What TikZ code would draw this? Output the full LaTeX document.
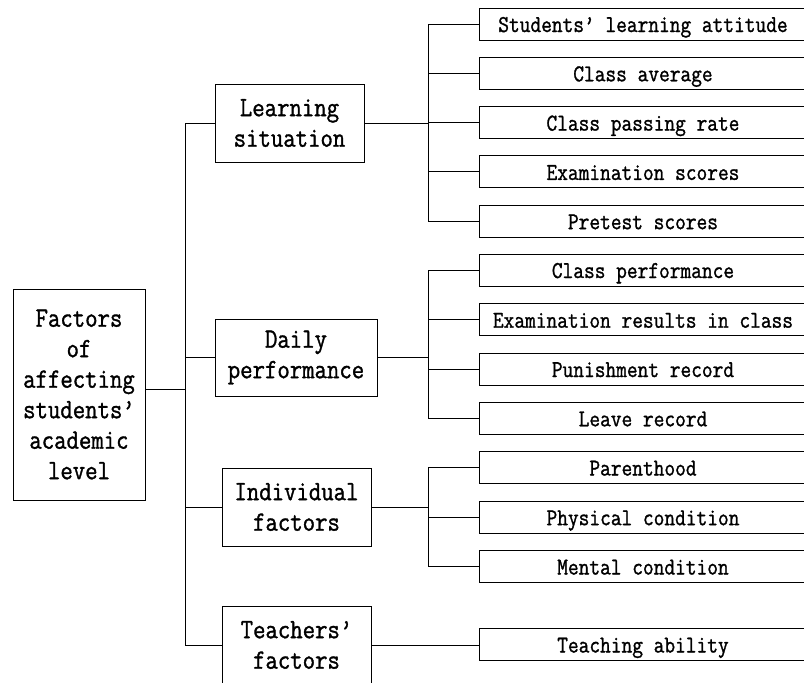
\documentclass[tikz,border=0pt]{standalone}
\usepackage{fontspec}
\setmainfont[FakeStretch=0.86,FakeBold=1.2]{Latin Modern Mono}
\begin{document}
\begin{tikzpicture}[x=1pt,y=-1pt,
  line width=1pt,
  midbox/.style={draw, align=center, inner sep=0pt, font=\fontsize{28}{30.5}\selectfont},
  leaf/.style={draw, anchor=west, minimum width=327pt, minimum height=32pt, inner sep=0pt, text height=18pt, text depth=2pt, font=\fontsize{24.2}{26}\selectfont},
  conn/.style={draw, line width=1pt}]
\useasboundingbox (0,0) rectangle (804,683);
\clip (0,0) rectangle (804,683);
% root
\node[midbox, minimum width=132pt, minimum height=211pt] (root) at (79,394.5) {Factors\\of\\affecting\\students’\\academic\\level};
% mid level
\node[midbox, minimum width=149pt, minimum height=78pt] (L) at (289.5,123) {Learning\\situation};
\node[midbox, minimum width=162pt, minimum height=77pt] (D) at (296,357.5) {Daily\\performance};
\node[midbox, minimum width=149pt, minimum height=78pt] (I) at (296.5,507) {Individual\\factors};
\node[midbox, minimum width=149pt, minimum height=78pt] (T) at (296.5,645) {Teachers’\\factors};
% leaves
\node[leaf] (l1) at (479,24) {Students’ learning attitude};
\node[leaf] (l2) at (479,73.3) {Class average};
\node[leaf] (l3) at (479,122.6) {Class passing rate};
\node[leaf] (l4) at (479,171.9) {Examination scores};
\node[leaf] (l5) at (479,221.2) {Pretest scores};
\node[leaf] (d1) at (479,270) {Class performance};
\node[leaf] (d2) at (479,319.7) {Examination results in class};
\node[leaf] (d3) at (479,369) {Punishment record};
\node[leaf] (d4) at (479,418.3) {Leave record};
\node[leaf] (i1) at (479,467.5) {Parenthood};
\node[leaf] (i2) at (479,517.2) {Physical condition};
\node[leaf] (i3) at (479,566.5) {Mental condition};
\node[leaf] (t1) at (479,644.5) {Teaching ability};
% trunk
\coordinate (tr) at (185,389);
\coordinate (bx) at (428,0);
\draw[conn] (root.east |- tr) -- (tr);
\draw[conn] (L.west) -| (tr |- L.west) -- (tr |- T.west) -- (T.west);
\draw[conn] (D.west) -- (tr |- D.west);
\draw[conn] (I.west) -- (tr |- I.west);
% learning bus
\draw[conn] (l1.west) -- (bx |- l1.west) -- (bx |- l5.west) -- (l5.west);
\foreach \n in {l2,l3,l4} \draw[conn] (\n.west) -- (bx |- \n.west);
\draw[conn] (L.east) -- (bx |- L.east);
% daily bus
\draw[conn] (d1.west) -- (bx |- d1.west) -- (bx |- d4.west) -- (d4.west);
\foreach \n in {d2,d3} \draw[conn] (\n.west) -- (bx |- \n.west);
\draw[conn] (D.east) -- (bx |- D.east);
% individual bus
\draw[conn] (i1.west) -- (bx |- i1.west) -- (bx |- i3.west) -- (i3.west);
\draw[conn] (i2.west) -- (bx |- i2.west);
\draw[conn] (I.east) -- (bx |- I.east);
% teachers
\draw[conn] (T.east) -- (T.east -| t1.west);
\end{tikzpicture}
\end{document}
